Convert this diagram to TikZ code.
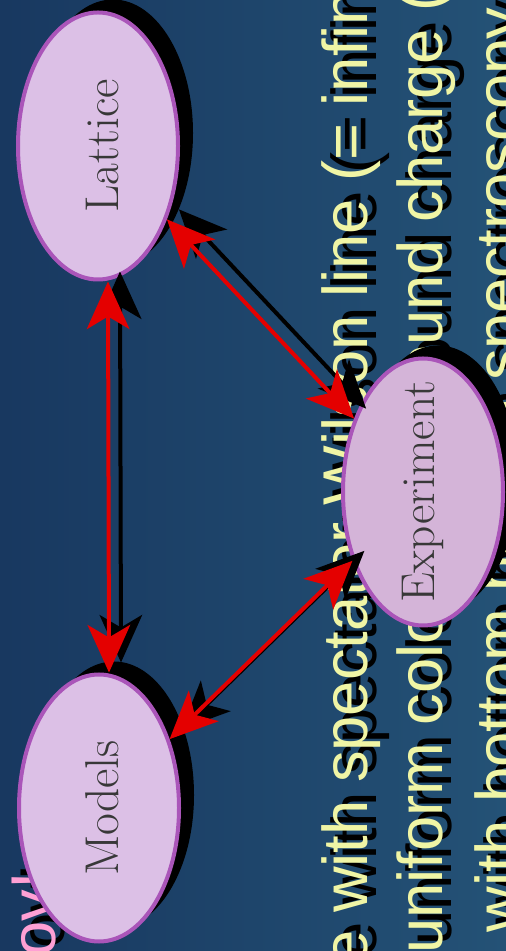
\documentclass[tikz,border=0pt]{standalone}
\usepackage{fontspec}
\newfontfamily\slidefont{Liberation Sans}
\usetikzlibrary{arrows.meta, shapes.geometric, shadows}
\definecolor{bgleft}{RGB}{24,56,96}
\definecolor{bgright}{RGB}{36,82,118}
\definecolor{bubblefill}{RGB}{220,192,230}
\definecolor{bubbledark}{RGB}{212,180,216}
\definecolor{bubbleline}{RGB}{170,85,185}
\definecolor{linkred}{RGB}{228,0,0}
\definecolor{slideyellow}{RGB}{240,245,165}
\definecolor{slidepink}{RGB}{255,160,212}
\tikzset{
    bubble/.style={ellipse, draw=bubbleline, line width=0.8mm, fill=bubblefill,
        minimum width=32mm, minimum height=53.4mm, inner sep=0pt,
        drop shadow={shadow xshift=3mm, shadow yshift=2.6mm, fill=black, opacity=1}},
    bubblelabel/.style={rotate=90, inner sep=0pt, text=black!78,
        font=\fontsize{27}{32}\selectfont},
    link/.style={{Stealth[length=9.5mm, width=8.5mm, inset=2.5mm]}-{Stealth[length=9.5mm, width=8.5mm, inset=2.5mm]},
        line width=0.8mm, color=linkred},
    linkshade/.style={link, color=black, transform canvas={shift={(2.4mm,2mm)}}},
    slidetext/.style={rotate=90, anchor=base west, inner sep=0pt, text=slideyellow,
        font=\slidefont\fontsize{36}{40}\selectfont},
    slideshade/.style={slidetext, text=black},
}
\begin{document}
\begin{tikzpicture}[x=0.2mm, y=0.2mm]
    \useasboundingbox (0,0) rectangle (506,951);
    \clip (0,0) rectangle (506,951);
    \shade[left color=bgleft, right color=bgright] (0,0) rectangle (506,951);

    % Folientext (gedreht)
    \foreach \xb/\ys/\txt [count=\i] in {367/-15/{e with spectator Wilson line (= infin},
        442/-3/{uniform color background charge (},
        520/18/{with bottom baryon spectroscopy}} {
        \node[slideshade] at (\xb+9,\ys+8) {\txt};
        \node[slidetext] (line\i) at (\xb,\ys) {\txt};
    }
    \node[slideshade] at (64,2) {ov!};
    \node[slidetext, text=slidepink] (title) at (55,-6) {ov!};

    % Ellipsen
    \node[bubble] (lat) at (98,805) {};
    \node[bubble] (mod) at (99,143) {};
    \node[bubble, fill=bubbledark] (exp) at (423,459) {};
    \node[bubblelabel] (lat-label) at ([xshift=0.8mm]lat) {Lattice};
    \node[bubblelabel] (mod-label) at ([xshift=0.6mm]mod) {Models};
    \node[bubblelabel] (exp-label) at (exp) {Experiment};

    % Pfeile
    \draw[linkshade] ([xshift=2mm]lat.south) -- ([xshift=2mm]mod.north);
    \draw[linkshade] (lat) -- (exp);
    \draw[linkshade] (mod) -- (exp);
    \draw[link] ([xshift=2mm]lat.south) -- ([xshift=2mm]mod.north);
    \draw[link] (lat) -- (exp);
    \draw[link] (mod) -- (exp);
\end{tikzpicture}
\end{document}
